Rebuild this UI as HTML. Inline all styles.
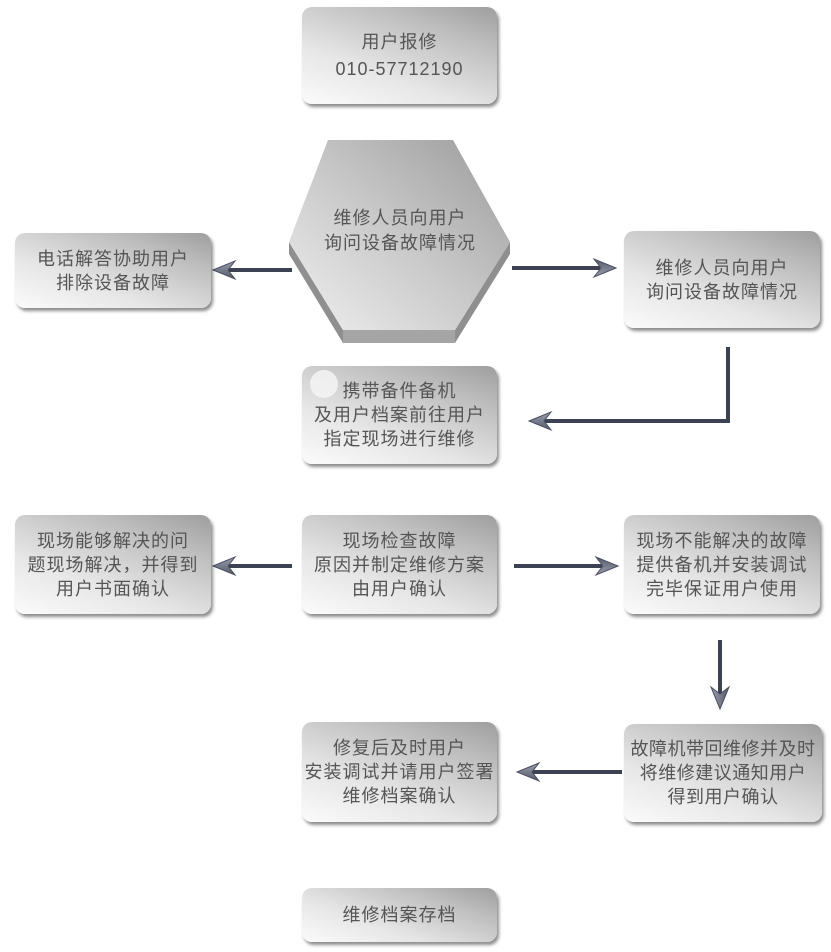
<!DOCTYPE html>
<html><head><meta charset="utf-8">
<style>
html,body{margin:0;padding:0;background:#fff;}
body{width:831px;height:952px;position:relative;overflow:hidden;font-family:"Liberation Sans","Noto Sans CJK SC",sans-serif;}
.b{position:absolute;box-sizing:border-box;border-radius:10px;
background:linear-gradient(20deg,#fbfbfb 0%,#e6e6e6 35%,#bdbdbd 75%,#9e9e9e 100%);
box-shadow:2px 3px 3px rgba(0,0,0,0.45);white-space:nowrap;
display:flex;align-items:center;justify-content:center;text-align:center;
color:#555;font-size:18px;line-height:24px;letter-spacing:1px;}
svg{position:absolute;left:0;top:0;}
.ht{position:absolute;left:290px;top:206px;width:220px;text-align:center;color:#555;font-size:18px;line-height:25px;letter-spacing:1px;}
</style></head><body>
<svg width="831" height="952">
<defs>
<linearGradient id="hg" x1="0" y1="1" x2="1" y2="0">
<stop offset="0" stop-color="#f0f0f0"/><stop offset="0.5" stop-color="#c8c8c8"/><stop offset="1" stop-color="#9a9a9a"/>
</linearGradient>
<linearGradient id="ah" x1="0" y1="0" x2="0" y2="1">
<stop offset="0" stop-color="#9aa0b0"/><stop offset="1" stop-color="#555a6a"/>
</linearGradient>
<g id="arr"><path d="M0,0 L22,-9 L15,0 L22,9 Z" fill="url(#ah)" stroke="#4a4f5e" stroke-width="1"/></g>
</defs>
<polygon points="289,254 343,343 455,343 510,254 510,242 455,330 343,330 289,242" fill="#8f8f8f"/>
<polygon points="328,140 453,140 510,242 455,330 343,330 289,242" fill="url(#hg)"/>
<polygon points="343,330 455,330 455,343 343,343" fill="#a5a5a5"/>
<g stroke="#3d4252" stroke-width="4" fill="none">
<line x1="292" y1="270" x2="228" y2="270"/>
<line x1="512" y1="268" x2="600" y2="268"/>
<polyline points="728,347 728,421 544,421"/>
<line x1="292" y1="566" x2="228" y2="566"/>
<line x1="514" y1="566" x2="602" y2="566"/>
<line x1="720" y1="640" x2="720" y2="694"/>
<line x1="622" y1="772" x2="532" y2="772"/>
</g>
<use href="#arr" transform="translate(213,270)"/>
<use href="#arr" transform="translate(616,268) rotate(180)"/>
<use href="#arr" transform="translate(529,421)"/>
<use href="#arr" transform="translate(213,566)"/>
<use href="#arr" transform="translate(618,566) rotate(180)"/>
<use href="#arr" transform="translate(720,709) rotate(-90)"/>
<use href="#arr" transform="translate(517,772)"/>
</svg>
<div class="ht">维修人员向用户<br>询问设备故障情况</div>

<div class="b" style="left:302px;top:7px;width:195px;height:97px;font-size:18px;line-height:27px;">用户报修<br>010-57712190</div>
<div class="b" style="left:15px;top:233px;width:196px;height:75px;">电话解答协助用户<br>排除设备故障</div>
<div class="b" style="left:624px;top:231px;width:196px;height:97px;">维修人员向用户<br>询问设备故障情况</div>
<div class="b" style="left:302px;top:366px;width:195px;height:98px;">携带备件备机<br>及用户档案前往用户<br>指定现场进行维修</div>
<div style="position:absolute;left:310px;top:370px;width:28px;height:28px;border-radius:50%;background:#f4f4f4;opacity:0.85;"></div>
<div class="b" style="left:15px;top:515px;width:196px;height:99px;">现场能够解决的问<br>题现场解决，并得到<br>用户书面确认</div>
<div class="b" style="left:302px;top:515px;width:195px;height:99px;">现场检查故障<br>原因并制定维修方案<br>由用户确认</div>
<div class="b" style="left:624px;top:515px;width:196px;height:99px;">现场不能解决的故障<br>提供备机并安装调试<br>完毕保证用户使用</div>
<div class="b" style="left:302px;top:722px;width:195px;height:100px;">修复后及时用户<br>安装调试并请用户签署<br>维修档案确认</div>
<div class="b" style="left:624px;top:724px;width:198px;height:98px;letter-spacing:0.5px;">故障机带回维修并及时<br>将维修建议通知用户<br>得到用户确认</div>
<div class="b" style="left:302px;top:888px;width:195px;height:54px;">维修档案存档</div>
</body></html>
